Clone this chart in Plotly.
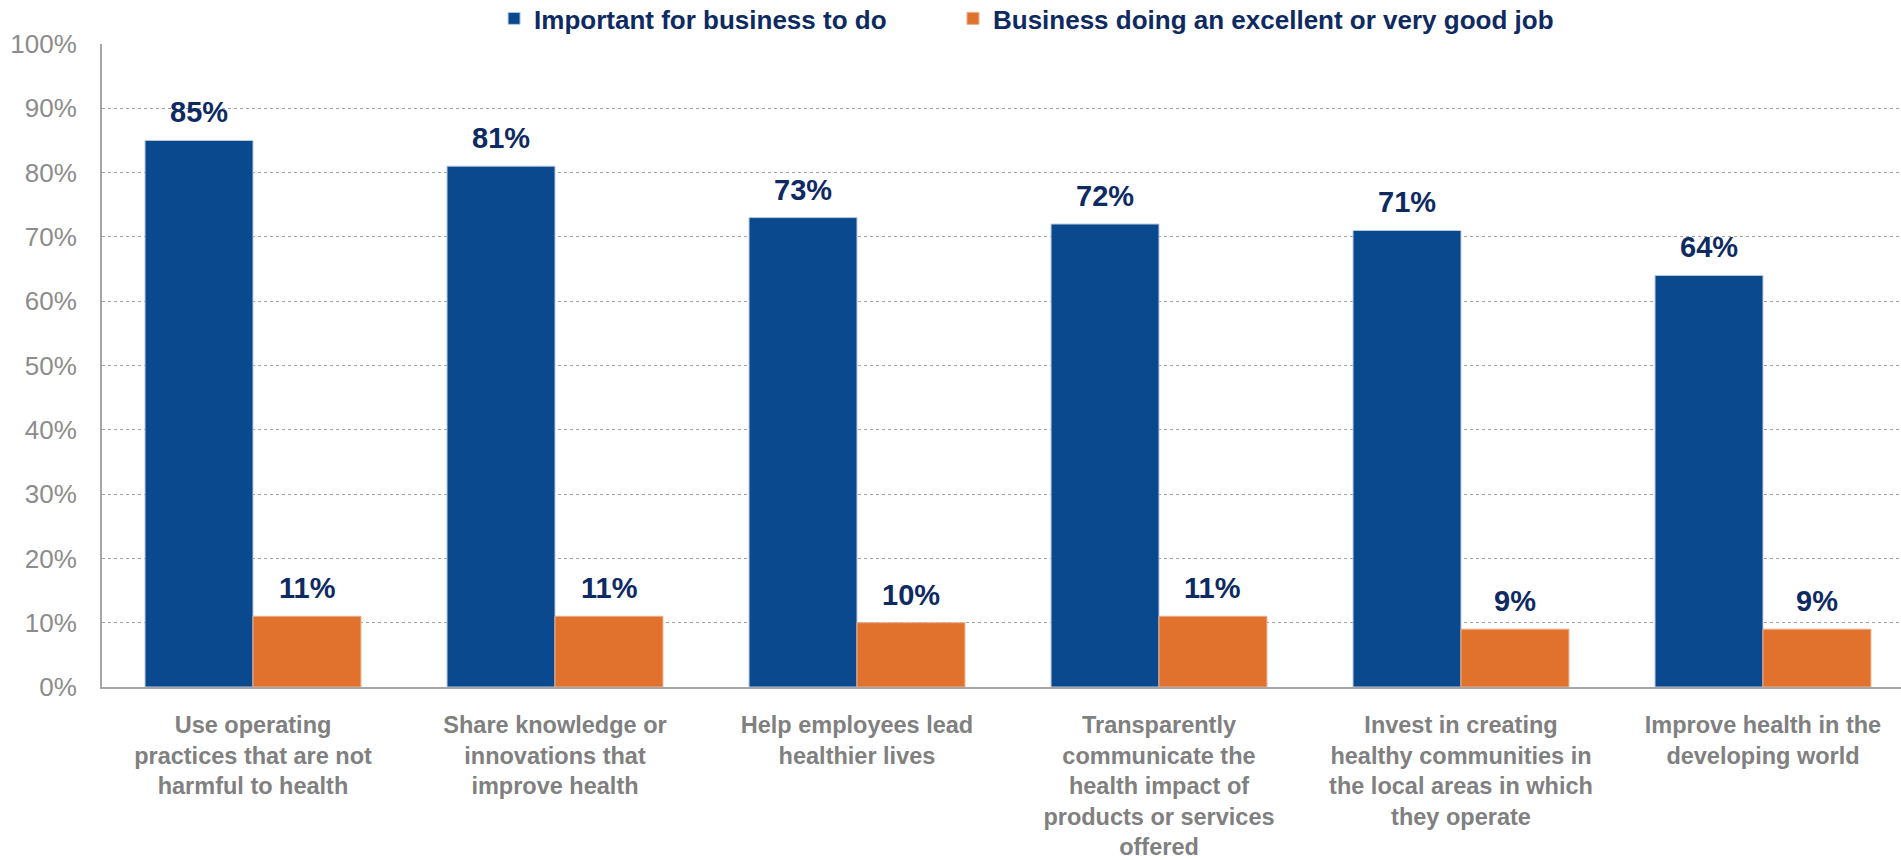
import plotly.graph_objects as go

categories = [
    "Use operating<br>practices that are not<br>harmful to health",
    "Share knowledge or<br>innovations that<br>improve health",
    "Help employees lead<br>healthier lives",
    "Transparently<br>communicate the<br>health impact of<br>products or services<br>offered",
    "Invest in creating<br>healthy communities in<br>the local areas in which<br>they operate",
    "Improve health in the<br>developing world",
]
series_names = ["Important for business to do", "Business doing an excellent or very good job"]
important = [85, 81, 73, 72, 71, 64]
doing_well = [11, 11, 10, 11, 9, 9]
y_ticks = [0, 10, 20, 30, 40, 50, 60, 70, 80, 90, 100]
y_tick_labels = [f"{v}%" for v in y_ticks]

BLUE = "#0a498e"
ORANGE = "#e0722e"
NAVY = "#0e2a62"
FONT = "Liberation Sans, Arial, sans-serif"

fig = go.Figure()
fig.add_trace(go.Bar(x=categories, y=important, name=series_names[0], legend="legend",
                     marker=dict(color=BLUE, line=dict(color="#b9c9e0", width=1))))
fig.add_trace(go.Bar(x=categories, y=doing_well, name=series_names[1], legend="legend2",
                     marker=dict(color=ORANGE, line=dict(color="#e9b08c", width=1))))

# data labels above bars
for vals, shift in ((important, -54), (doing_well, 54)):
    for c, v in zip(categories, vals):
        fig.add_annotation(x=c, y=v, text=f"{v}%", showarrow=False, xshift=shift,
                           yanchor="bottom", yshift=10,
                           font=dict(family=FONT, size=29, color=NAVY, weight="bold"))

legend_style = dict(orientation="h", yref="container", xref="container",
                    y=0.9785, yanchor="middle", xanchor="left",
                    font=dict(family=FONT, size=26, color=NAVY, weight="bold"),
                    bgcolor="rgba(0,0,0,0)")

fig.update_layout(
    width=1901, height=860,
    margin=dict(l=102, r=0, t=44, b=173, autoexpand=False),
    paper_bgcolor="white", plot_bgcolor="white",
    barmode="group", bargap=0.285, bargroupgap=0,
    font=dict(family=FONT),
    showlegend=True,
    legend=dict(legend_style, x=0.2599),
    legend2=dict(legend_style, x=0.5013),
)

fig.update_xaxes(
    range=[-0.5, 5.457], showline=True, linecolor="#a6a6a6", linewidth=2,
    showgrid=False, ticks="", ticklabelstandoff=16, automargin=False,
    tickfont=dict(family=FONT, size=23.5, color="#808080", weight="bold"),
)
fig.update_yaxes(
    range=[0, 100], tickvals=y_ticks, ticktext=y_tick_labels,
    showline=True, linecolor="#a6a6a6", linewidth=2,
    showgrid=True, gridcolor="#a0a0a0", gridwidth=1, griddash="dot",
    ticks="", ticklabelstandoff=18, zeroline=False, automargin=False,
    tickfont=dict(family=FONT, size=26, color="#8c8c8c"),
)

fig.write_html("out.html", config={"displayModeBar": False},
               post_script="document.body.style.margin='0';")
